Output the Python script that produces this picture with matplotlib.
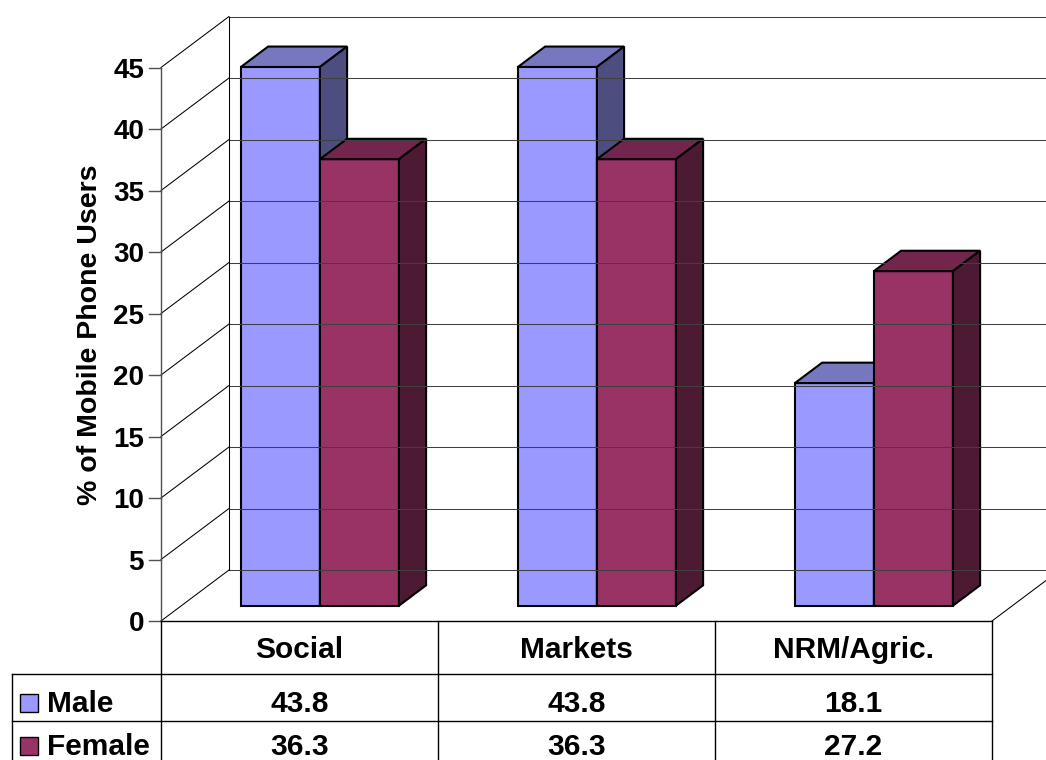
import matplotlib
matplotlib.use('Agg')
import matplotlib.pyplot as plt
from matplotlib.patches import Polygon, Rectangle
from matplotlib.lines import Line2D
from matplotlib.transforms import IdentityTransform

plt.rcParams['font.family'] = ['Liberation Sans', 'DejaVu Sans']
plt.rcParams['font.weight'] = 'bold'

# data
categories = ['Social', 'Markets', 'NRM/Agric.']
series = ['Male', 'Female']
male = [43.8, 43.8, 18.1]
female = [36.3, 36.3, 27.2]
yticks = [0, 5, 10, 15, 20, 25, 30, 35, 40, 45]

front_colors = ['#9999FF', '#993366']
top_colors = ['#7777C0', '#73264D']
side_colors = ['#4D4D80', '#4D1A33']

W, H = 1046, 760
fig = plt.figure(figsize=(W / 100, H / 100), dpi=100)
fig.patch.set_facecolor('white')

# front plane of the 3d box
ax = fig.add_axes([161 / W, (H - 621) / H, 831 / W, 553.5 / H])
ax.set_xlim(0, len(categories))
ax.set_ylim(0, 45)
ax.axis('off')

DX, DY = 68, 51  # depth of the box in pixels
ident = IdentityTransform()


def proj(x, v, d):
    px, py = ax.transData.transform((x, v))
    return (px + d * DX, py + d * DY)


def top(y):
    # pixel from the top of the image -> display y
    return H - y


def line(p, q, color='black', lw=0.75):
    ax.add_line(Line2D([p[0], q[0]], [p[1], q[1]], color=color, lw=lw,
                       transform=ident, clip_on=False))


def face(pts, color):
    ax.add_patch(Polygon(pts, closed=True, facecolor=color, edgecolor='black',
                         lw=1.5, joinstyle='miter', transform=ident, clip_on=False))


ncat = len(categories)

# walls and gridlines
for v in yticks:
    line(proj(0, v, 1), proj(ncat, v, 1), color='#404040')
    line(proj(0, v, 0), proj(0, v, 1), color='black')
    t = proj(0, v, 0)
    line((149, t[1]), t, color='#505050', lw=1)
    ax.text(144, t[1] - 10, str(v), transform=ident, ha='right', va='baseline',
            fontsize=20)
line(proj(0, 0, 1), proj(0, 45, 1))
line(proj(0, 0, 0), proj(0, 45, 0), color='#505050', lw=1)
line(proj(0, 0, 0), proj(ncat, 0, 0), lw=1)
line(proj(ncat, 0, 0), proj(ncat, 0, 1))

ax.text(90, top(335), '% of Mobile Phone Users', transform=ident, rotation=90,
        ha='center', va='center', fontsize=20.5)

# bars
bw = 79 / 277
d0, d1 = 0.3, 0.7
for i in range(ncat):
    c = i + 0.5
    for s, vals in enumerate([male, female]):
        x0 = c - bw + s * bw
        x1 = x0 + bw
        v = vals[i]
        face([proj(x0, 0, d0), proj(x1, 0, d0), proj(x1, v, d0), proj(x0, v, d0)],
             front_colors[s])
        face([proj(x0, v, d0), proj(x1, v, d0), proj(x1, v, d1), proj(x0, v, d1)],
             top_colors[s])
        face([proj(x1, 0, d0), proj(x1, 0, d1), proj(x1, v, d1), proj(x1, v, d0)],
             side_colors[s])

# data table
cols = [proj(i, 0, 0)[0] for i in range(ncat + 1)]
left = 12
row_base = [712, 755]
for y in [674, 721]:
    line((left, top(y)), (cols[-1], top(y)), lw=1)
line((left, top(674)), (left, top(760)), lw=1)
for x in cols:
    line((x, top(621)), (x, top(760)), lw=1)

for i, cat in enumerate(categories):
    cx = proj(i + 0.5, 0, 0)[0]
    ax.text(cx, top(658), cat, transform=ident, ha='center', va='baseline',
            fontsize=21.5)
    for s, vals in enumerate([male, female]):
        ax.text(cx, top(row_base[s]), f'{vals[i]:.1f}', transform=ident,
                ha='center', va='baseline', fontsize=21.5)

for s, name in enumerate(series):
    base = row_base[s]
    ax.add_patch(Rectangle((20, top(base)), 18, 18, facecolor=front_colors[s],
                           edgecolor='black', lw=1, transform=ident, clip_on=False))
    ax.text(47, top(base), name, transform=ident, ha='left', va='baseline',
            fontsize=21.5)

fig.savefig('out.png', dpi=100)
